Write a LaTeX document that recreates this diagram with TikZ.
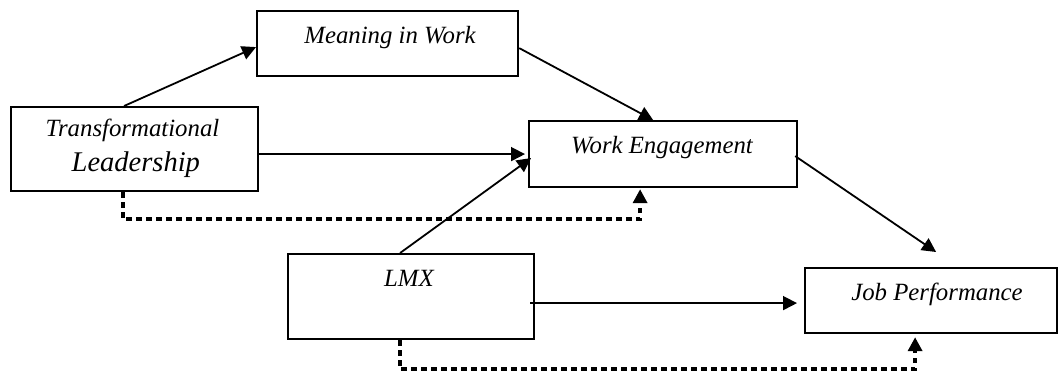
\documentclass[tikz,border=0pt]{standalone}
\usepackage{fontspec}
\setmainfont{Liberation Serif}
\usetikzlibrary{arrows.meta}
\begin{document}
\begin{tikzpicture}[x=1pt,y=-1pt,
  box/.style={draw=black,line width=2.2pt,inner sep=0pt,anchor=north west},
  lab/.style={inner sep=0pt,anchor=base,font=\fontsize{24.8}{28}\selectfont\itshape},
  arr/.style={line width=1.8pt,-{Triangle[length=14pt,width=14pt]}},
  dots/.style={line width=4.5pt,dash pattern=on 5.5pt off 4.5pt,-{Triangle[length=14pt,width=14pt]}}]
\useasboundingbox (0,0) rectangle (1058,374);
\node[box,minimum width=247pt,minimum height=84pt] (tl) at (10,106) {};
\node[box,minimum width=261pt,minimum height=65pt] (mw) at (256,10) {};
\node[box,minimum width=268pt,minimum height=66pt] (we) at (528,120) {};
\node[box,minimum width=246pt,minimum height=85pt] (lmx) at (287,253) {};
\node[box,minimum width=252pt,minimum height=65pt] (jp) at (804,267) {};
\node[lab] (tlt1) at (132.5,137) {Transformational};
\node[lab,font=\fontsize{28.5}{32}\selectfont\itshape] (tlt2) at (135.8,172) {Leadership};
\node[lab] (mwt) at (390,44) {Meaning in Work};
\node[lab] (wet) at (662,154) {Work Engagement};
\node[lab] (lmxt) at (409,287) {LMX};
\node[lab] (jpt) at (937,300) {Job Performance};
\draw[arr] ([xshift=-10.5pt]tl.north) -- ([yshift=-3.5pt]mw.west);
\draw[arr] ([yshift=-4.5pt]mw.east) -- ([xshift=-10pt]we.north);
\draw[arr,shorten >=3pt] ([yshift=-5pt]tl.east) -- ([yshift=0pt]we.west);
\draw[arr] ([xshift=-11pt]lmx.north) -- ([yshift=-4pt,xshift=3pt]we.west);
\draw[arr] ([xshift=-3pt,yshift=-2pt]we.east) -- ([xshift=5pt,yshift=15pt]jp.north);
\draw[arr] ([xshift=-5pt,yshift=-6.5pt]lmx.east) -- ([xshift=-7pt,yshift=-2.5pt]jp.west);
\draw[dots] ([xshift=-11.5pt]tl.south) -- ++(0,27) -| ([xshift=-23pt,yshift=-1pt]we.south);
\draw[dots] ([xshift=-11pt]lmx.south) -- ++(0,29) -| ([xshift=-16pt,yshift=-3pt]jp.south);
\end{tikzpicture}
\end{document}
